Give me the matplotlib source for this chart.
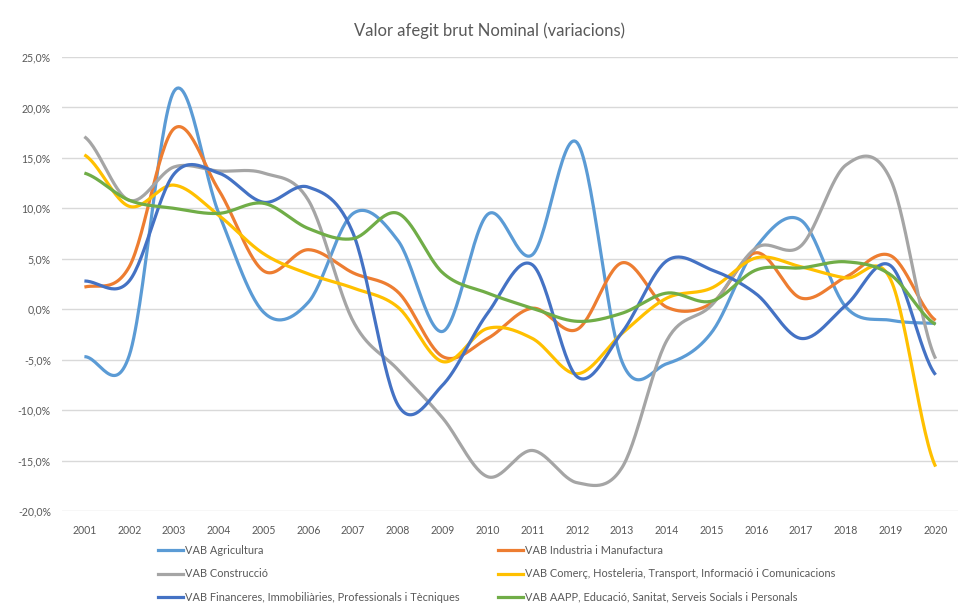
import numpy as np
import matplotlib
matplotlib.use("Agg")
import matplotlib.pyplot as plt
from matplotlib.ticker import FuncFormatter
from matplotlib.lines import Line2D

years = list(range(2001, 2021))

agricultura = [-4.7, -4.6, 21.6, 9.5, -0.3, 0.7, 9.5, 6.8, -2.2, 9.4, 5.4, 16.5, -5.2, -5.4, -2.3, 6.2, 8.8, 0.2, -1.1, -1.4]
industria = [2.2, 4.2, 17.9, 11.8, 3.8, 5.9, 3.6, 1.7, -4.7, -2.9, 0.1, -2.0, 4.6, 0.2, 0.6, 5.6, 1.1, 3.2, 5.3, -1.1]
construccio = [17.1, 10.8, 14.1, 13.7, 13.5, 10.8, -1.2, -6.0, -10.8, -16.6, -14.0, -17.2, -15.7, -3.1, 0.4, 6.1, 6.3, 14.3, 12.8, -4.9]
comerc = [15.3, 10.2, 12.3, 9.3, 5.5, 3.5, 2.1, 0.2, -5.2, -1.9, -2.9, -6.4, -2.4, 1.1, 2.1, 5.1, 4.2, 3.1, 2.9, -15.6]
financeres = [2.8, 2.8, 13.4, 13.5, 10.6, 12.1, 7.5, -9.5, -7.5, -0.4, 4.4, -6.7, -2.3, 4.8, 3.9, 1.5, -2.9, 0.4, 4.3, -6.5]
aapp = [13.5, 10.8, 10.0, 9.5, 10.5, 8.0, 7.0, 9.5, 3.6, 1.6, 0.1, -1.2, -0.4, 1.6, 0.8, 3.9, 4.1, 4.7, 3.4, -1.5]

labels = [
    "VAB Agricultura",
    "VAB Industria i Manufactura",
    "VAB Construcció",
    "VAB Comerç, Hosteleria, Transport, Informació i Comunicacions",
    "VAB Financeres, Immobiliàries, Professionals i Tècniques",
    "VAB AAPP, Educació, Sanitat, Serveis Socials i Personals",
]
series = [agricultura, industria, construccio, comerc, financeres, aapp]
colors = ["#5B9BD5", "#ED7D31", "#A5A5A5", "#FFC000", "#4472C4", "#70AD47"]

title = "Valor afegit brut Nominal (variacions)"


def smooth(x, y, n=30):
    # Catmull-Rom (Excel-like smoothing) through the data points
    x = np.asarray(x, float)
    y = np.asarray(y, float)
    px = np.concatenate([[2 * x[0] - x[1]], x, [2 * x[-1] - x[-2]]])
    py = np.concatenate([[y[0]], y, [y[-1]]])
    xs, ys = [], []
    t = np.linspace(0, 1, n, endpoint=False)
    for i in range(1, len(px) - 2):
        p0, p1, p2, p3 = px[i - 1], px[i], px[i + 1], px[i + 2]
        q0, q1, q2, q3 = py[i - 1], py[i], py[i + 1], py[i + 2]
        c1x, c1y = p1 + (p2 - p0) / 6, q1 + (q2 - q0) / 6
        c2x, c2y = p2 - (p3 - p1) / 6, q2 - (q3 - q1) / 6
        bx = (1 - t) ** 3 * p1 + 3 * (1 - t) ** 2 * t * c1x + 3 * (1 - t) * t ** 2 * c2x + t ** 3 * p2
        by = (1 - t) ** 3 * q1 + 3 * (1 - t) ** 2 * t * c1y + 3 * (1 - t) * t ** 2 * c2y + t ** 3 * q2
        xs.extend(bx)
        ys.extend(by)
    xs.append(x[-1])
    ys.append(y[-1])
    return np.array(xs), np.array(ys)


plt.rcParams['font.family'] = ['Lato', 'DejaVu Sans']

fig = plt.figure(figsize=(9.6, 6.04), dpi=100)
ax = fig.add_axes([62 / 960, 1 - 511 / 604, (958 - 62) / 960, (511 - 57) / 604])

handles = []
for vals, col, lab in zip(series, colors, labels):
    xs, ys = smooth(years, vals)
    ax.plot(xs, ys, color=col, lw=2.3, solid_capstyle='butt', zorder=3)
    handles.append(Line2D([], [], color=col, lw=2.3, label=lab))

ax.set_xlim(2000.5, 2020.5)
ax.set_ylim(-20, 25)
ax.set_yticks(np.arange(-20, 26, 5))
ax.set_xticks(years)
ax.set_xticklabels([str(y) for y in years])
ax.yaxis.set_major_formatter(FuncFormatter(lambda v, p: f"{v:.1f}%".replace(".", ",")))
ax.grid(axis='y', color='#D9D9D9', lw=1)
ax.set_axisbelow(True)
for s in ax.spines.values():
    s.set_visible(False)
ax.tick_params(axis='both', length=0, labelsize=7.6, colors='#595959', pad=8)
ax.tick_params(axis='x', pad=10)

fig.text(490 / 960, 1 - 31 / 604, title, ha='center', va='center', fontsize=12, color='#595959')

leg_kw = dict(frameon=False, fontsize=7.9, handlelength=2.3, handletextpad=0.2,
              labelspacing=1.13, borderpad=0, borderaxespad=0, labelcolor='#595959')
l1 = fig.legend(handles=[handles[0], handles[2], handles[4]], loc='upper left',
                bbox_to_anchor=(158 / 960, 1 - 545 / 604), **leg_kw)
l2 = fig.legend(handles=[handles[1], handles[3], handles[5]], loc='upper left',
                bbox_to_anchor=(498 / 960, 1 - 545 / 604), **leg_kw)

fig.savefig("out.png", dpi=100)
